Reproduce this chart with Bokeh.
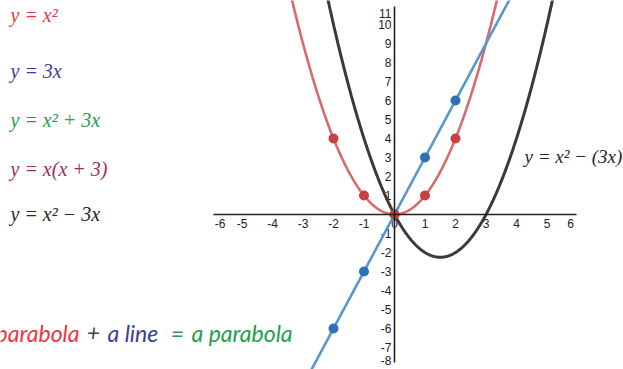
import numpy as np
from bokeh.plotting import figure
from bokeh.models import Range1d, LinearAxis, FixedTicker, Label
from bokeh.core.properties import value
from bokeh.embed import file_html
from bokeh.resources import INLINE

# Tick values and their printed labels
x_ticks = [-6, -5, -4, -3, -2, -1, 0, 1, 2, 3, 4, 5, 6]
x_tick_labels = ["-6", "-5", "-4", "-3", "-2", "-1", "0", "1", "2", "3", "4", "5", "6"]
y_ticks = [-8, -7, -6, -5, -4, -3, -2, -1, 1, 2, 3, 4, 5, 6, 7, 8, 9, 10, 11]
y_tick_labels = ["-8", "-7", "-6", "-5", "-4", "-3", "-2", "-1",
                 "1", "2", "3", "4", "5", "6", "7", "8", "9", "10", "11"]

# Marked points on y = x^2 and y = 3x
pts_x = [-2, -1, 0, 1, 2]
square_y = [4, 1, 0, 1, 4]
line_y = [-6, -3, 0, 3, 6]

# Polynomial coefficients (a, b, c) for y = a x^2 + b x + c
square_coef = (1, 0, 0)
line_coef = (0, 3, 0)
diff_coef = (1, -3, 0)

W, H = 623, 369
XPX, YPX = 30.5, 19.0          # pixels per unit
X0, Y0 = 394, 214              # origin position on the canvas
p = figure(width=W, height=H, output_backend="svg", toolbar_location=None,
           x_range=Range1d(-X0 / XPX, (W - X0) / XPX),
           y_range=Range1d(-(H - Y0) / YPX, Y0 / YPX),
           x_axis_type=None, y_axis_type=None, min_border=0)
p.outline_line_color = None
p.grid.visible = False
p.background_fill_color = "white"
p.border_fill_color = "white"

# Axis lines crossing at the origin
x_bounds = (-5.95, 5.97)
y_bounds = (-7.8, 10.95)
xa = LinearAxis(fixed_location=0, ticker=FixedTicker(ticks=[]), bounds=x_bounds)
ya = LinearAxis(fixed_location=0, ticker=FixedTicker(ticks=[]), bounds=y_bounds)
for ax in (xa, ya):
    ax.axis_line_color = "#222222"
    ax.axis_line_width = 1.6
    ax.major_tick_line_color = None
    ax.minor_tick_line_color = None
p.add_layout(xa, "below")
p.add_layout(ya, "left")

# Tick labels, kept inside the extent of the axis lines
lab_font = value("Liberation Sans")
x_lab_pos = np.clip(x_ticks, x_bounds[0] + 7 / XPX, x_bounds[1] - 6 / XPX)
y_lab_pos = np.clip(y_ticks, y_bounds[0] + 2 / YPX, y_bounds[1] - 7 / YPX)
p.text(x=x_lab_pos, y=[0] * len(x_ticks), text=x_tick_labels,
       text_font=lab_font, text_font_size="12px", text_color="#222222",
       text_align="center", text_baseline="top", y_offset=4)
p.text(x=[0] * len(y_ticks), y=y_lab_pos, text=y_tick_labels,
       text_font=lab_font, text_font_size="12px", text_color="#222222",
       text_align="right", text_baseline="middle", x_offset=-3)

xs = np.linspace(-4.5, 6.5, 600)


def poly(c):
    return c[0] * xs ** 2 + c[1] * xs + c[2]


p.line(xs, poly(square_coef), line_color="#d96a6c", line_width=2.6)
p.line(xs, poly(line_coef), line_color="#5b97cf", line_width=2.6)
p.line(xs, poly(diff_coef), line_color="#3a3a3a", line_width=3)

p.scatter(pts_x, line_y, size=10, fill_color="#2f6fb5", line_color=None)
p.scatter(pts_x, square_y, size=10, fill_color="#c8403f", line_color=None)

# Equation captions
eq_font = "Liberation Serif"
eqs = [
    ("y = x²", "#e8383f", 10, 14, "20px"),
    ("y = 3x", "#3b3e96", 10, 70, "20px"),
    ("y = x² + 3x", "#22a04b", 10, 119, "20px"),
    ("y = x(x + 3)", "#9b2c5f", 10, 168, "20px"),
    ("y = x² − 3x", "#262626", 10, 213, "20px"),
    ("y = x² − (3x)", "#262626", 524, 156, "19px"),
]
for txt, col, lx, base, fs in eqs:
    p.add_layout(Label(x=lx, y=H - base, x_units="screen", y_units="screen",
                       text=txt, text_color=col, text_font=eq_font,
                       text_font_style="italic", text_font_size=fs,
                       text_baseline="alphabetic"))

# Summary phrase along the bottom
hand = "Lato"
phrase = [
    ("a parabola", "#e8383f", 79, "right"),
    ("+", "#444444", 93, "center"),
    ("a line", "#3b3e96", 107, "left"),
    ("=", "#22a04b", 177, "center"),
    ("a parabola", "#22a04b", 191, "left"),
]
for txt, col, lx, align in phrase:
    p.add_layout(Label(x=lx, y=H - 332, x_units="screen", y_units="screen",
                       text=txt, text_color=col, text_font=hand,
                       text_font_style="italic", text_font_size="23px",
                       text_align=align, text_baseline="alphabetic"))

open("out.html", "w").write(file_html(p, INLINE))
